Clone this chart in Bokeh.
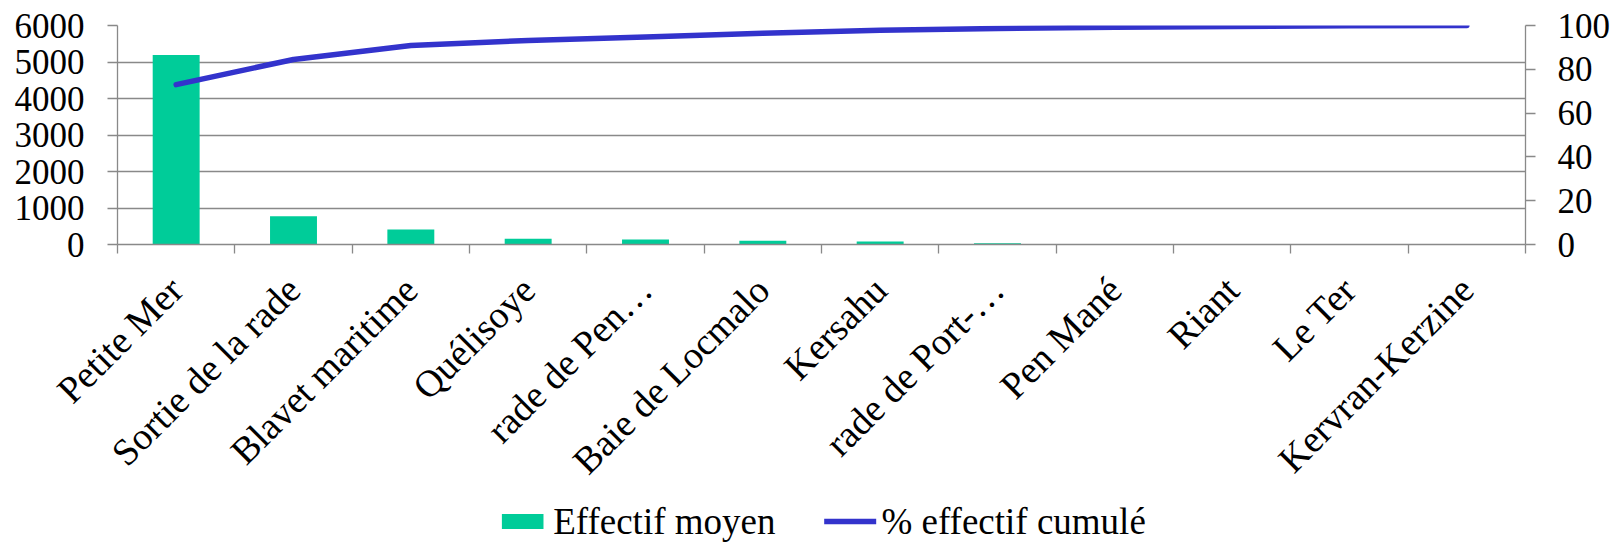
import math
from bokeh.plotting import figure
from bokeh.layouts import column
from bokeh.models import (ColumnDataSource, Range1d, LinearAxis, FixedTicker,
                          Legend, LegendItem)
from bokeh.embed import file_html
from bokeh.resources import INLINE

# ---- data ----
categories = ["Petite Mer", "Sortie de la rade", "Blavet maritime", "Quélisoye",
              "rade de Pen…", "Baie de Locmalo", "Kersahu", "rade de Port-…",
              "Pen Mané", "Riant", "Le Ter", "Kervran-Kerzine"]
effectif_moyen = [5190, 775, 410, 155, 136, 100, 82, 36, 15, 10, 3, 2]
pct_cumule = [73.0, 84.5, 90.9, 93.2, 94.8, 96.5, 97.8, 98.6, 99.2, 99.6, 99.9, 100.0]
left_ticks = [0, 1000, 2000, 3000, 4000, 5000, 6000]
right_ticks = [0, 20, 40, 60, 80, 100]

FONT = "Liberation Serif"
GRAY = "#898989"
BAR_COLOR = "#00CC99"
LINE_COLOR = "#3333CC"

n = len(categories)
xc = [i + 0.5 for i in range(n)]
src = ColumnDataSource(dict(x=xc, v=effectif_moyen, p=pct_cumule))

p = figure(width=1616, height=499, output_backend="svg", toolbar_location=None,
           x_range=Range1d(0, n), y_range=Range1d(0, 6000),
           min_border_left=117, min_border_right=91, min_border_top=25,
           min_border_bottom=254)
p.outline_line_color = None
p.xgrid.visible = False
p.ygrid.grid_line_color = GRAY
p.ygrid.grid_line_width = 1.3
p.ygrid.ticker = FixedTicker(ticks=left_ticks)
p.extra_y_ranges = {"pct": Range1d(0, 100)}

bars = p.vbar(x="x", top="v", width=0.4, source=src, fill_color=BAR_COLOR,
              line_color=None)
line = p.line(x="x", y="p", source=src, y_range_name="pct", line_color=LINE_COLOR,
              line_width=5.5, line_cap="round", line_join="round")

# left axis
ya = p.yaxis[0]
ya.ticker = FixedTicker(ticks=left_ticks)
ya.axis_line_color = GRAY
ya.axis_line_width = 1.3
ya.major_tick_line_color = GRAY
ya.major_tick_line_width = 1.3
ya.major_tick_out = 10
ya.major_tick_in = 0
ya.minor_tick_line_color = None
ya.major_label_standoff = 23
ya.major_label_text_font = FONT
ya.major_label_text_font_size = "35px"
ya.major_label_text_color = "black"

# right axis
ra = LinearAxis(y_range_name="pct", ticker=FixedTicker(ticks=right_ticks))
ra.axis_line_color = GRAY
ra.axis_line_width = 1.3
ra.major_tick_line_color = GRAY
ra.major_tick_line_width = 1.3
ra.major_tick_out = 10
ra.major_tick_in = 0
ra.minor_tick_line_color = None
ra.major_label_standoff = 22
ra.major_label_orientation = 0.0
ra.major_label_text_align = "left"
ra.major_label_text_font = FONT
ra.major_label_text_font_size = "35px"
ra.major_label_text_color = "black"
p.add_layout(ra, "right")

# bottom axis
xa = p.xaxis[0]
xa.ticker = FixedTicker(ticks=xc, minor_ticks=list(range(n + 1)))
xa.major_label_overrides = {x: c for x, c in zip(xc, categories)}
xa.major_tick_line_color = None
xa.minor_tick_line_color = GRAY
xa.minor_tick_line_width = 1.3
xa.minor_tick_out = 9
xa.minor_tick_in = 0
xa.axis_line_color = GRAY
xa.axis_line_width = 1.3
xa.major_label_orientation = math.pi / 4
xa.major_label_standoff = 30
xa.major_label_text_font = FONT
xa.major_label_text_font_size = "38px"
xa.major_label_text_color = "black"

# legend strip below the chart (same series, renderers hidden: only the keys show)
pl = figure(width=1616, height=43, output_backend="svg", toolbar_location=None,
            x_axis_type=None, y_axis_type=None, x_range=Range1d(0, n),
            y_range=Range1d(0, 6000), min_border_left=0, min_border_top=0,
            min_border_bottom=0, min_border_right=26)
pl.outline_line_color = None
pl.grid.visible = False
lb = pl.vbar(x="x", top="v", width=0.4, source=src, fill_color=BAR_COLOR,
             line_color=None, visible=False)
ll = pl.line(x="x", y="p", source=src, line_color=LINE_COLOR, line_width=5.5,
             line_cap="round", visible=False)
legend = Legend(items=[LegendItem(label="Effectif moyen", renderers=[lb]),
                       LegendItem(label="% effectif cumulé", renderers=[ll])],
                orientation="horizontal", location="center",
                glyph_width=52, glyph_height=19, label_standoff=5, spacing=49,
                padding=0, margin=0, border_line_color=None,
                background_fill_alpha=0, inactive_fill_alpha=0,
                label_text_font=FONT, label_text_font_size="37px",
                label_text_color="black")
pl.add_layout(legend, "center")

page = column(p, pl, spacing=0)
open("out.html", "w").write(file_html(page, INLINE))
